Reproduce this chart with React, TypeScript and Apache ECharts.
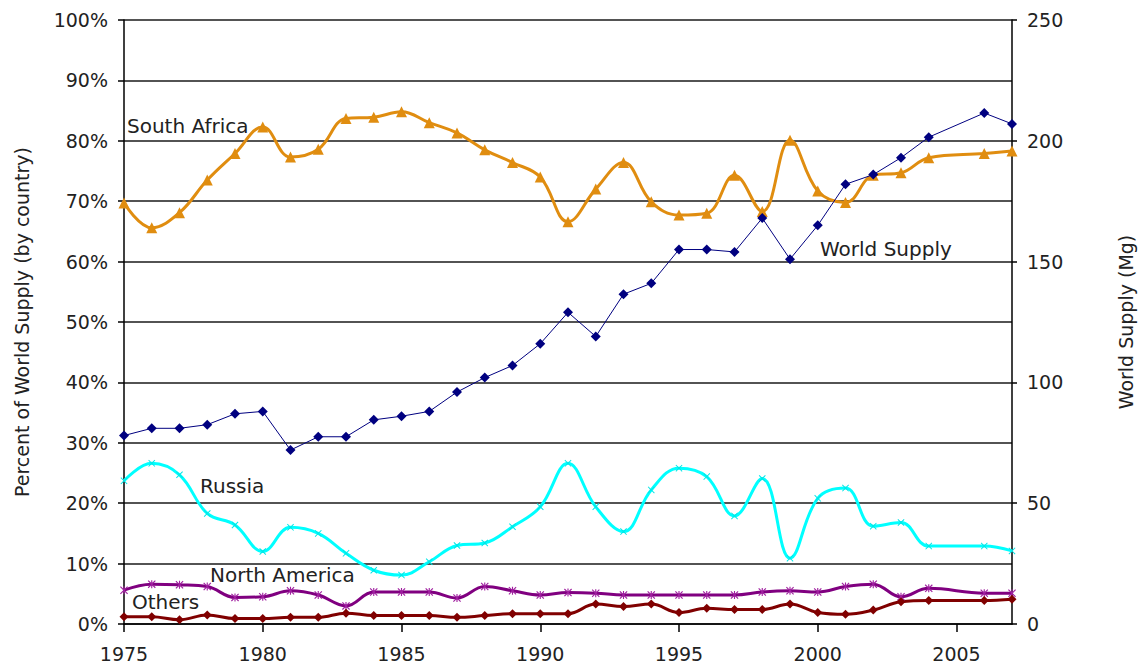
import React, { useEffect, useRef } from "react";
import * as echarts from "echarts";

const years = [1975, 1976, 1977, 1978, 1979, 1980, 1981, 1982, 1983, 1984, 1985, 1986, 1987, 1988, 1989, 1990, 1991, 1992, 1993, 1994, 1995, 1996, 1997, 1998, 1999, 2000, 2001, 2002, 2003, 2004, 2006, 2007];

const southAfrica = [69.7, 65.6, 68.1, 73.5, 77.9, 82.3, 77.3, 78.6, 83.7, 83.9, 84.8, 83.0, 81.3, 78.5, 76.4, 74.0, 66.6, 72.0, 76.4, 69.9, 67.7, 68.0, 74.3, 68.3, 80.1, 71.7, 69.8, 74.3, 74.7, 77.2, 77.9, 78.3];
const russia = [23.7, 26.6, 24.7, 18.3, 16.4, 12.0, 16.0, 15.0, 11.7, 8.9, 8.1, 10.3, 13.0, 13.4, 16.1, 19.4, 26.6, 19.4, 15.3, 22.2, 25.8, 24.4, 17.9, 24.1, 10.9, 20.8, 22.5, 16.2, 16.8, 12.9, 12.9, 12.1];
const northAmerica = [5.6, 6.6, 6.5, 6.2, 4.4, 4.5, 5.5, 4.8, 3.0, 5.3, 5.3, 5.3, 4.3, 6.2, 5.5, 4.8, 5.2, 5.1, 4.8, 4.8, 4.8, 4.8, 4.8, 5.3, 5.5, 5.3, 6.2, 6.6, 4.5, 5.9, 5.1, 5.1];
const others = [1.2, 1.2, 0.7, 1.5, 0.9, 0.9, 1.1, 1.1, 1.8, 1.4, 1.4, 1.4, 1.1, 1.4, 1.7, 1.7, 1.7, 3.3, 2.9, 3.3, 1.9, 2.6, 2.4, 2.4, 3.3, 1.9, 1.6, 2.3, 3.7, 3.9, 3.9, 4.1];
const worldSupply = [78, 81, 81, 82.5, 87, 88, 72, 77.5, 77.5, 84.5, 86, 88, 96, 102, 107, 116, 129, 119, 136.5, 141, 155, 155, 154, 168, 151, 165, 182, 186, 193, 201.5, 211.5, 207];

const leftAxisName = "Percent of World Supply (by country)";
const rightAxisName = "World Supply (Mg)";

const FONT = "DejaVu Sans";
const TEXT_COLOR = "#222";

const crossPath = "path://M0,1L1,0L5,4L9,0L10,1L6,5L10,9L9,10L5,6L1,10L0,9L4,5Z";
const starPath = "path://M0,1L1,0L5,4L9,0L10,1L6,5L10,9L9,10L5,6L1,10L0,9L4,5Z M4.3,0L5.7,0L5.7,10L4.3,10Z";

function pairs(vals: number[]) {
  return years.map((y, i) => [y, vals[i]]);
}

export default function App() {
  const ref = useRef<HTMLDivElement>(null);
  useEffect(() => {
    if (!ref.current) return;
    const chart = echarts.init(ref.current, null, { renderer: "svg" });
    const labelText = (text: string, x: number, y: number) => ({
      type: "text",
      x,
      y,
      z: 100,
      style: {
        text,
        font: `20px "${FONT}"`,
        fill: TEXT_COLOR,
        verticalAlign: "middle",
        align: "left",
      },
    });
    chart.setOption({
      animation: false,
      backgroundColor: "#ffffff",
      grid: { left: 124, right: 126, top: 20, bottom: 39, containLabel: false },
      xAxis: {
        type: "value",
        min: 1975,
        max: 2007,
        interval: 5,
        axisLine: { show: true, lineStyle: { color: "#000", width: 1.5 } },
        axisTick: { show: true, inside: false, length: 8, lineStyle: { color: "#000", width: 1.5 } },
        axisLabel: {
          showMaxLabel: false,
          margin: 20,
          color: TEXT_COLOR,
          fontFamily: FONT,
          fontSize: 19,
          formatter: (v: number) => String(v),
        },
        splitLine: { show: false },
      },
      yAxis: [
        {
          type: "value",
          min: 0,
          max: 100,
          interval: 10,
          position: "left",
          name: leftAxisName,
          nameLocation: "middle",
          nameRotate: 90,
          nameGap: 93,
          nameTextStyle: { color: TEXT_COLOR, fontFamily: FONT, fontSize: 19 },
          axisLine: { show: true, lineStyle: { color: "#000", width: 1.5 } },
          axisTick: { show: true, inside: false, length: 6, lineStyle: { color: "#000", width: 1.5 } },
          axisLabel: { formatter: "{value}%", margin: 16, color: TEXT_COLOR, fontFamily: FONT, fontSize: 19 },
          splitLine: { show: true, lineStyle: { color: "#1a1a1a", width: 1.5 } },
        },
        {
          type: "value",
          min: 0,
          max: 250,
          interval: 50,
          position: "right",
          name: rightAxisName,
          nameLocation: "middle",
          nameRotate: 90,
          nameGap: 104,
          nameTextStyle: { color: TEXT_COLOR, fontFamily: FONT, fontSize: 19 },
          axisLine: { show: true, lineStyle: { color: "#000", width: 1.5 } },
          axisTick: { show: true, inside: false, length: 5, lineStyle: { color: "#000", width: 1.5 } },
          axisLabel: { margin: 15, color: TEXT_COLOR, fontFamily: FONT, fontSize: 19 },
          splitLine: { show: false },
        },
      ],
      series: [
        {
          name: "South Africa",
          type: "line",
          yAxisIndex: 0,
          data: pairs(southAfrica),
          smooth: 0.4,
          symbol: "triangle",
          symbolSize: 11,
          lineStyle: { color: "#E08D10", width: 3 },
          itemStyle: { color: "#E08D10" },
        },
        {
          name: "Russia",
          type: "line",
          yAxisIndex: 0,
          data: pairs(russia),
          smooth: 0.4,
          symbol: crossPath,
          symbolSize: 7,
          lineStyle: { color: "#00FFFF", width: 3 },
          itemStyle: { color: "#00E5E5" },
        },
        {
          name: "North America",
          type: "line",
          yAxisIndex: 0,
          data: pairs(northAmerica),
          smooth: 0.4,
          symbol: starPath,
          symbolSize: 8,
          lineStyle: { color: "#800080", width: 3 },
          itemStyle: { color: "#A020A0" },
        },
        {
          name: "Others",
          type: "line",
          yAxisIndex: 0,
          data: pairs(others),
          smooth: 0.4,
          symbol: "diamond",
          symbolSize: 9,
          lineStyle: { color: "#800000", width: 3 },
          itemStyle: { color: "#800000" },
        },
        {
          name: "World Supply",
          type: "line",
          yAxisIndex: 1,
          data: pairs(worldSupply),
          smooth: false,
          symbol: "diamond",
          symbolSize: 10,
          lineStyle: { color: "#000080", width: 1 },
          itemStyle: { color: "#000080" },
        },
      ],
      graphic: [
        labelText("South Africa", 127, 126),
        labelText("World Supply", 820, 249),
        labelText("Russia", 200, 486),
        labelText("North America", 210, 575),
        labelText("Others", 132, 602),
      ],
    });
    return () => chart.dispose();
  }, []);
  return <div ref={ref} style={{ position: "fixed", left: 0, top: 0, width: 1143, height: 663, background: "#fff" }} />;
}
